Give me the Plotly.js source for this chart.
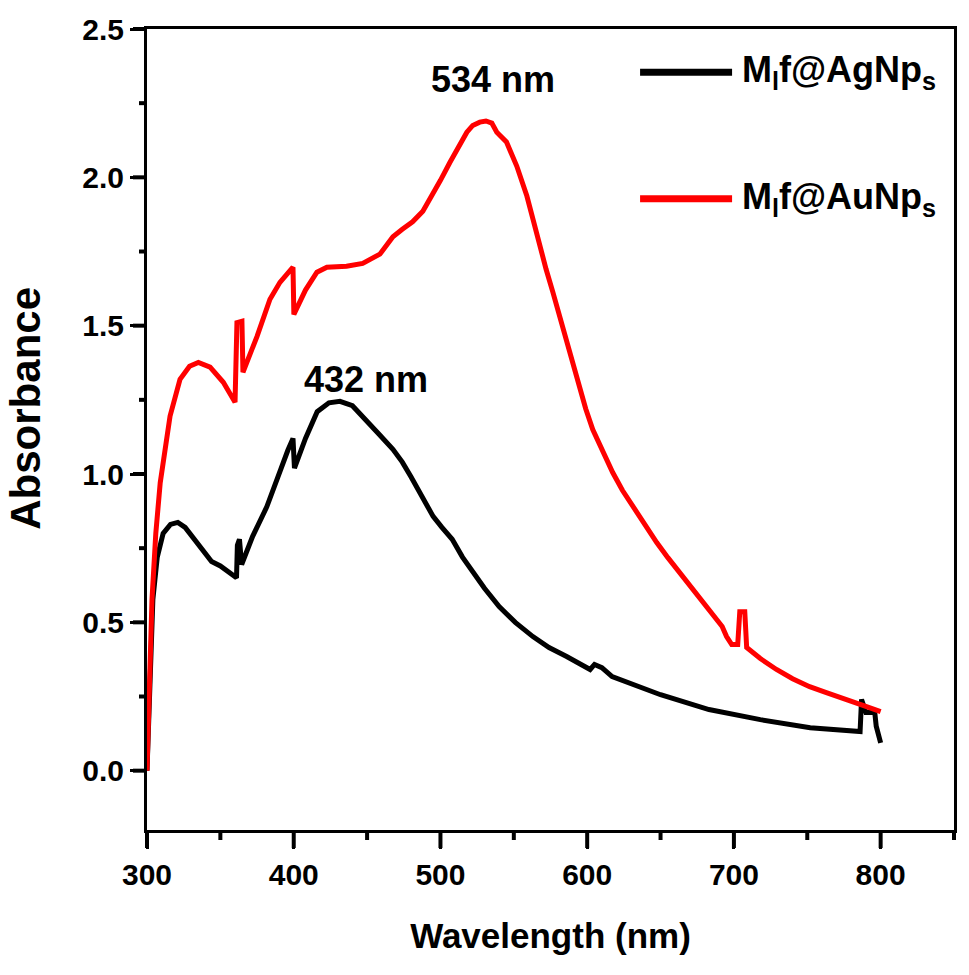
<!DOCTYPE html>
<html>
<head>
<meta charset="utf-8">
<script src="https://cdn.plot.ly/plotly-3.0.1.min.js"></script>
<style>
  html, body { margin: 0; padding: 0; background: #fff; }
  #chart { width: 969px; height: 975px; }
</style>
</head>
<body>
<div id="chart"></div>
<script>
// UV-vis spectra, values
var wlAg = [300, 302, 304, 307, 311, 316, 321, 326, 332, 338, 344, 350, 356, 361, 361.6, 363, 364.5,
  372, 381.7, 390.6, 396, 399.5, 400.5, 408, 416, 424, 431.5, 440, 450, 458, 467.6, 474, 480, 487, 495,
  501, 508, 515, 522, 530, 540, 551, 563, 574, 586, 602, 605, 610, 617, 634, 650, 683, 718, 752, 786,
  787, 790, 796, 797, 800];
var absAg = [0.0, 0.25, 0.577, 0.72, 0.80, 0.83, 0.837, 0.82, 0.78, 0.745, 0.705, 0.69, 0.67, 0.65, 0.76, 0.78, 0.695,
  0.79, 0.89, 1.015, 1.08, 1.12, 1.02, 1.12, 1.21, 1.24, 1.245, 1.23, 1.18, 1.135, 1.083, 1.04, 0.99, 0.93, 0.857,
  0.82, 0.78, 0.72, 0.668, 0.615, 0.553, 0.50, 0.452, 0.415, 0.385, 0.341, 0.358, 0.347, 0.317, 0.284, 0.256, 0.206,
  0.172, 0.145, 0.132, 0.240, 0.196, 0.196, 0.15, 0.094];

var wlAu = [300, 301.5, 303.4, 306, 309, 315.7, 322.5, 329, 335, 343, 352, 360, 361.3, 364.7, 365.4, 375,
  383.8, 390.6, 399.5, 400.1, 408, 415.8, 422.6, 436, 447, 458.7, 463, 467.6, 474, 481, 488, 494.8, 500,
  506.4, 512, 518, 522, 526.8, 531, 535, 538.4, 545, 552, 558.9, 563, 567.7, 572, 576.6, 581, 586, 590,
  595, 599, 603.8, 610, 617.4, 624, 631, 639, 647.4, 655, 663, 671, 678.7, 685, 692, 695, 698.5, 702.6,
  704, 707.4, 708.7, 718, 729, 740, 751.6, 763, 774, 787, 800];
var absAu = [0.0, 0.3, 0.577, 0.8, 0.97, 1.195, 1.319, 1.363, 1.376, 1.36, 1.309, 1.242, 1.51, 1.515, 1.343, 1.464,
  1.589, 1.646, 1.697, 1.538, 1.62, 1.68, 1.697, 1.70, 1.71, 1.741, 1.77, 1.80, 1.825, 1.85, 1.886, 1.943, 1.99,
  2.05, 2.10, 2.152, 2.175, 2.186, 2.19, 2.183, 2.152, 2.119, 2.038, 1.937, 1.86, 1.768, 1.69, 1.613, 1.535, 1.454, 1.38,
  1.29, 1.22, 1.150, 1.08, 1.005, 0.945, 0.891, 0.828, 0.769, 0.718, 0.668, 0.617, 0.567, 0.527, 0.486, 0.452, 0.425, 0.425,
  0.536, 0.536, 0.415, 0.378, 0.341, 0.31, 0.283, 0.263, 0.246, 0.222, 0.199];

var seriesNames = ["M<sub>l</sub>f@AgNp<sub>s</sub>", "M<sub>l</sub>f@AuNp<sub>s</sub>"];
var seriesColors = ["#000000", "#ff0000"];
var peakLabels = ["432 nm", "534 nm"];
var peakPos = [[449, 1.32], [536, 2.33]];

var xRange = [300, 850], yRange = [-0.2, 2.5];
var FONT = "Liberation Sans, Arial, sans-serif";
var W = 969, H = 975, M = { l: 147, r: 15, t: 29, b: 145 };
var plotW = W - M.l - M.r, plotH = H - M.t - M.b;

var data = [
  { x: wlAg, y: absAg, type: "scatter", mode: "lines", name: seriesNames[0],
    line: { color: seriesColors[0], width: 5 }, showlegend: false },
  { x: wlAu, y: absAu, type: "scatter", mode: "lines", name: seriesNames[1],
    line: { color: seriesColors[1], width: 5 }, showlegend: false }
];

var shapes = [], annotations = [];

// tick marks (the built-in ones do not show up in the render), major + minor
for (var v = 300; v <= 850; v += 50) {
  var len = (v % 100 === 0) ? 18 : 10;
  var px = (v - xRange[0]) / (xRange[1] - xRange[0]);
  shapes.push({ type: "line", xref: "paper", yref: "paper", x0: px, x1: px, y0: 0, y1: -len / plotH,
    line: { color: "#000", width: 4 } });
}
for (var k = 0; k <= 10; k++) {
  var t = k * 0.25, lenY = (k % 2 === 0) ? 14 : 8;
  var py = (t - yRange[0]) / (yRange[1] - yRange[0]);
  shapes.push({ type: "line", xref: "paper", yref: "paper", x0: 0, x1: -lenY / plotW, y0: py, y1: py,
    line: { color: "#000", width: 4 } });
}

// hand-drawn legend to get the long sample lines of the original
var legY = [0.946, 0.788];
for (var i = 0; i < 2; i++) {
  shapes.push({ type: "line", xref: "paper", yref: "paper", x0: 0.611, x1: 0.725, y0: legY[i], y1: legY[i],
    line: { color: seriesColors[i], width: 7 } });
  annotations.push({ xref: "paper", yref: "paper", x: 0.735, y: legY[i], xanchor: "left", yanchor: "middle",
    text: seriesNames[i], showarrow: false, font: { family: FONT, size: 36, color: "#000", weight: "bold" } });
  annotations.push({ x: peakPos[i][0], y: peakPos[i][1], text: peakLabels[i], showarrow: false,
    font: { family: FONT, size: 36, color: "#000", weight: "bold" } });
}
// y title placed as annotation, the original sits a bit above the plot centre
annotations.push({ xref: "paper", yref: "y", x: 0, y: 1.22, xshift: -121, xanchor: "center", yanchor: "middle",
  textangle: -90, text: "Absorbance", showarrow: false,
  font: { family: FONT, size: 42, color: "#000", weight: "bold" } });

var layout = {
  width: W, height: H,
  margin: M,
  paper_bgcolor: "#fff", plot_bgcolor: "#fff",
  xaxis: {
    range: xRange, tick0: 300, dtick: 100,
    showgrid: false, zeroline: false, showline: true, linecolor: "#000", linewidth: 3, mirror: true,
    ticks: "outside", ticklen: 16, tickwidth: 3, tickcolor: "#000",
    tickfont: { family: FONT, size: 30, color: "#000", weight: "bold" },
    title: { text: "Wavelength (nm)", standoff: 34,
      font: { family: FONT, size: 35, color: "#000", weight: "bold" } }
  },
  yaxis: {
    range: yRange, tick0: 0, dtick: 0.5, tickformat: ".1f",
    showgrid: false, zeroline: false, showline: true, linecolor: "#000", linewidth: 3, mirror: true,
    ticks: "outside", ticklen: 14, tickwidth: 3, tickcolor: "#000",
    tickfont: { family: FONT, size: 30, color: "#000", weight: "bold" }
  },
  shapes: shapes,
  annotations: annotations
};

Plotly.newPlot("chart", data, layout, { displayModeBar: false });
</script>
</body>
</html>
